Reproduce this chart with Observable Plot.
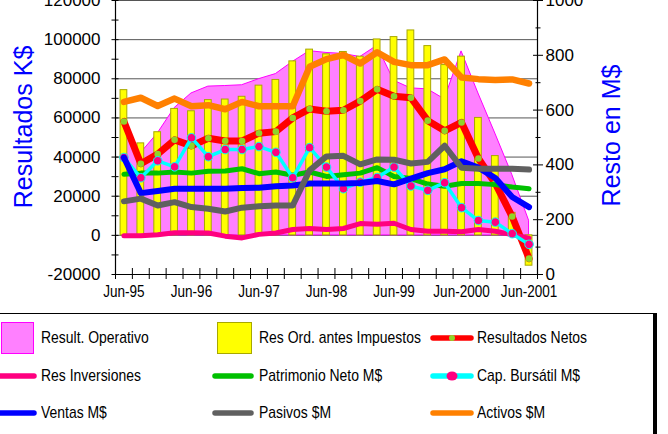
<!DOCTYPE html>
<html>
<head>
<meta charset="utf-8">
<script src="https://cdn.jsdelivr.net/npm/d3@7"></script>
<script src="https://cdn.jsdelivr.net/npm/@observablehq/plot@0.6"></script>
<style>
  html, body { margin: 0; padding: 0; background: #fff; }
  #wrap { position: relative; width: 668px; height: 434px; overflow: hidden; background: #fff; }
  #legend { position: absolute; left: -4px; top: 313px; width: 656px; height: 140px; border: 1px solid #000; box-shadow: 3px 0 0 #000; background: #fff; }
  .lab { position: absolute; white-space: nowrap; font-family: "Liberation Sans", Arial, sans-serif; font-size: 17px; line-height: 20px; color: #000; transform: scaleX(0.82); transform-origin: 0 50%; }
</style>
</head>
<body>
<div id="wrap">
  <div id="chart"></div>
  <div id="legend"></div>
</div>
<script>
// ---------- data ----------
const quarters = ["Jun-95","Sep-95","Dic-95","Mar-96","Jun-96","Sep-96","Dic-96","Mar-97","Jun-97","Sep-97","Dic-97","Mar-98","Jun-98","Sep-98","Dic-98","Mar-99","Jun-99","Sep-99","Dic-99","Mar-2000","Jun-2000","Sep-2000","Dic-2000","Mar-2001","Jun-2001"];
const labelQuarters = ["Jun-95","Jun-96","Jun-97","Jun-98","Jun-99","Jun-2000","Jun-2001"];

// left axis (K$)
const resultOperativo = [56000,42000,52000,65000,72500,76000,76300,76700,79800,82400,88600,94100,93200,92700,91100,96800,79000,75100,74600,69500,94000,72500,52000,31000,7500];
const resOrdAntesImp = [74200,47000,52700,64600,63400,69100,69400,70800,76500,79400,88900,94900,92500,93700,91300,100100,101300,104700,96700,87000,91300,60000,40500,11500,-15500];
const resultadosNetos = [58200,36600,41500,48800,45700,49600,48200,48200,52200,53000,60000,64600,63400,63900,68600,74600,71100,70300,58600,53400,57700,39300,26500,9600,-11900];
const resInversiones = [-200,-200,300,1300,1300,1200,-400,-1300,500,1200,3000,3500,3000,3500,6000,5700,6200,3000,2100,2100,1800,3000,2100,300,-1400];

// right axis (M$)
const patrimonioNeto = [366,370,370,374,370,377,378,386,368,374,362,374,358,364,370,390,358,350,330,322,332,332,328,319,313];
const capBursatil = [427,353,415,393,499,430,456,456,467,446,353,463,392,313,337,354,392,323,307,335,244,197,191,149,110];
const ventas = [427,297,305,313,313,313,313,316,317,322,325,332,332,332,334,341,329,350,370,384,413,390,352,283,246];
const pasivos = [267,277,252,264,246,240,230,244,249,252,252,380,431,433,402,420,419,405,411,470,390,386,386,386,383];
const activos = [630,645,615,642,614,618,603,630,614,614,614,758,786,801,770,811,776,764,764,785,719,713,710,712,697];

// axis ticks
const leftMajor = [-20000,0,20000,40000,60000,80000,100000,120000];
const leftMinor = [-10000,10000,30000,50000,70000,90000,110000];
const rightMajor = [0,200,400,600,800,1000];
const rightMinor = [100,300,500,700,900];

const leftTitle = "Resultados K$";
const rightTitle = "Resto en M$";

const legendLabels = ["Result. Operativo","Res Ord. antes Impuestos","Resultados Netos","Res Inversiones","Patrimonio Neto M$","Cap. Bursátil M$","Ventas M$","Pasivos $M","Activos $M"];

// ---------- helpers ----------
const yMin = leftMajor[0], yMax = leftMajor[leftMajor.length - 1];
const rMin = rightMajor[0], rMax = rightMajor[rightMajor.length - 1];
const toLeft = r => yMin + (r - rMin) * (yMax - yMin) / (rMax - rMin);
const fromLeft = v => rMin + (v - yMin) * (rMax - rMin) / (yMax - yMin);
const idx = d3.range(quarters.length);
const xDomain = [-0.5, quarters.length - 0.5];
const boundaries = d3.range(quarters.length + 1).map(i => i - 0.5);
const labelIdx = labelQuarters.map(q => quarters.indexOf(q));
const halfBar = 0.2;

const C = {
  area: "#ff80ff", areaStroke: "#ff00ff",
  bar: "#ffff00", barStroke: "#a8a800",
  netos: "#ff0000", netosDot: "#8fd42a",
  inv: "#ff0080", pat: "#00c000", cap: "#00ffff", capDot: "#ff0080",
  ventas: "#0000ff", pasivos: "#606060", activos: "#ff8000",
  title: "#0000ff"
};

const line = (arr, stroke, w, conv) => Plot.line(idx, {x: i => i, y: i => conv ? toLeft(arr[i]) : arr[i], stroke, strokeWidth: w, strokeLinejoin: "round", strokeLinecap: "round"});

const chart = Plot.plot({
  width: 668, height: 310,
  marginLeft: 115, marginRight: 131, marginTop: 0, marginBottom: 36,
  x: {domain: xDomain, axis: null},
  y: {domain: [yMin, yMax], axis: null},
  style: {fontFamily: "'Liberation Sans', Arial, sans-serif", fontSize: "17px", color: "#000", background: "transparent", overflow: "visible"},
  marks: [
    Plot.ruleY(leftMajor.filter(v => v > yMin), {stroke: "#555", strokeWidth: 1}),
    Plot.areaY(idx, {x: i => i, y: i => resultOperativo[i], fill: C.area, stroke: C.areaStroke, strokeWidth: 1}),
    Plot.rect(idx, {x1: i => i - halfBar, x2: i => i + halfBar, y1: 0, y2: i => resOrdAntesImp[i], fill: C.bar, stroke: C.barStroke, strokeWidth: 1}),
    line(resultadosNetos, C.netos, 7, false),
    Plot.dot(idx, {x: i => i, y: i => resultadosNetos[i], r: 3.3, fill: C.netosDot, stroke: "none"}),
    line(resInversiones, C.inv, 5, false),
    line(patrimonioNeto, C.pat, 5, true),
    line(capBursatil, C.cap, 3.5, true),
    Plot.dot(idx, {x: i => i, y: i => toLeft(capBursatil[i]), r: 4.3, fill: C.capDot, stroke: C.cap, strokeWidth: 1}),
    line(ventas, C.ventas, 6, true),
    line(pasivos, C.pasivos, 6, true),
    line(activos, C.activos, 6.5, true),
    // axis lines
    Plot.ruleY([yMin], {stroke: "#000", strokeWidth: 1.2}),
    Plot.ruleX([xDomain[0], xDomain[1]], {stroke: "#000", strokeWidth: 1.2}),
    // left axis
    Plot.axisY({anchor: "left", ticks: leftMajor.concat(leftMinor), tickSize: 7, insetLeft: 3.5, fill: "none", label: null}),
    Plot.axisY({anchor: "left", ticks: leftMajor, stroke: "none", tickSize: 0, tickPadding: 15, tickFormat: d => String(d), label: null}),
    // right axis
    Plot.axisY({anchor: "right", ticks: rightMajor.map(toLeft), tickSize: 10, insetRight: 5, fill: "none", label: null}),
    Plot.axisY({anchor: "right", ticks: rightMinor.map(toLeft), tickSize: 5, insetRight: 2.5, fill: "none", label: null}),
    Plot.axisY({anchor: "right", ticks: rightMajor.map(toLeft), stroke: "none", tickSize: 0, tickPadding: 8, tickFormat: v => String(Math.round(fromLeft(v))), label: null}),
    // x axis
    Plot.axisX({anchor: "bottom", ticks: boundaries, tickSize: 11, insetBottom: 6, fill: "none", label: null}),
    Plot.axisX({anchor: "bottom", ticks: labelIdx, stroke: "none", tickSize: 0, tickPadding: 11, tickFormat: i => quarters[i], fontSize: 16.5, label: null}),
    // axis titles
    Plot.text([leftTitle], {frameAnchor: "left", textAnchor: "middle", text: d => d, rotate: -90, dx: -91.5, dy: -10.5, fill: C.title, fontSize: 25}),
    Plot.text([rightTitle], {frameAnchor: "right", textAnchor: "middle", text: d => d, rotate: -90, dx: 74.5, dy: -2, fill: C.title, fontSize: 25})
  ]
});
document.getElementById("chart").appendChild(chart);

// condense the category labels (narrow face as in the original)
chart.querySelectorAll("text").forEach(t => {
  if (labelQuarters.includes(t.textContent)) {
    const len = t.getComputedTextLength();
    if (len > 0) {
      t.setAttribute("textLength", (len * 0.82).toFixed(1));
      t.setAttribute("lengthAdjust", "spacingAndGlyphs");
    }
  }
});

// ---------- legend ----------
const legendStyles = [
  {type: "rect", fill: C.area, stroke: C.areaStroke},
  {type: "rect", fill: C.bar, stroke: C.barStroke},
  {type: "line", stroke: C.netos, dot: C.netosDot, r: 3},
  {type: "line", stroke: C.inv},
  {type: "line", stroke: C.pat},
  {type: "line", stroke: C.cap, dot: C.capDot, r: 4.5},
  {type: "line", stroke: C.ventas},
  {type: "line", stroke: C.pasivos},
  {type: "line", stroke: C.activos}
];
const colX = [4, 220, 436];
const lineX = [[2, 37], [218, 254], [436, 474]];
const textX = [44, 262, 480];
const rowY = [24, 62, 99];
const legend = document.getElementById("legend");
const NS = "http://www.w3.org/2000/svg";
legendLabels.forEach((label, k) => {
  const col = k % 3, row = Math.floor(k / 3);
  const st = legendStyles[k];
  const svg = document.createElementNS(NS, "svg");
  svg.setAttribute("width", 60); svg.setAttribute("height", 40);
  svg.style.position = "absolute";
  svg.style.left = (lineX[col][0] - 4) + "px";
  svg.style.top = (rowY[row] - 20) + "px";
  svg.style.overflow = "visible";
  const ox = lineX[col][0] - 4;
  if (st.type === "rect") {
    const w = col === 0 ? 32 : 34;
    const r = document.createElementNS(NS, "rect");
    r.setAttribute("x", colX[col] - ox + 0.5); r.setAttribute("y", 4.5);
    r.setAttribute("width", w); r.setAttribute("height", 31);
    r.setAttribute("fill", st.fill); r.setAttribute("stroke", st.stroke);
    svg.appendChild(r);
  } else {
    const l = document.createElementNS(NS, "line");
    l.setAttribute("x1", lineX[col][0] - ox); l.setAttribute("x2", lineX[col][1] - ox);
    l.setAttribute("y1", 20); l.setAttribute("y2", 20);
    l.setAttribute("stroke", st.stroke); l.setAttribute("stroke-width", 5.5);
    l.setAttribute("stroke-linecap", "round");
    svg.appendChild(l);
    if (st.dot) {
      const c = document.createElementNS(NS, "ellipse");
      c.setAttribute("cx", (lineX[col][0] + lineX[col][1]) / 2 - ox); c.setAttribute("cy", 20);
      c.setAttribute("rx", st.r + (st.r > 4 ? 1 : 0)); c.setAttribute("ry", st.r);
      c.setAttribute("fill", st.dot);
      svg.appendChild(c);
    }
  }
  legend.appendChild(svg);
  const t = document.createElement("div");
  t.className = "lab";
  t.textContent = label;
  t.style.left = textX[col] + "px";
  t.style.top = (rowY[row] - 10) + "px";
  legend.appendChild(t);
});
</script>
</body>
</html>
